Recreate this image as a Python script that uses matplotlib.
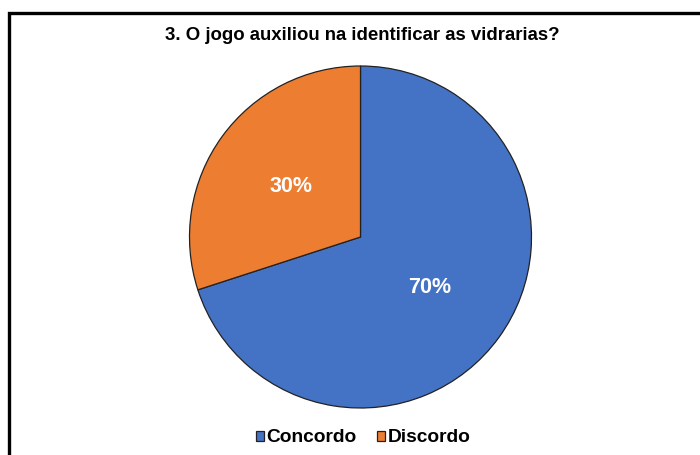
import matplotlib.pyplot as plt
from matplotlib.patches import Rectangle

# Data
labels = ["Concordo", "Discordo"]
values = [70, 30]
colors = ["#4472C4", "#ED7D31"]
title = "3. O jogo auxiliou na identificar as vidrarias?"

plt.rcParams['font.family'] = ['Liberation Sans', 'DejaVu Sans']

fig = plt.figure(figsize=(7, 4.55), dpi=100)

# frame of the chart box (runs off the right and bottom edge)
fig.patches.append(Rectangle((8.5 / 700, -0.05), 1.2, (455 - 13) / 455 + 0.05,
                             transform=fig.transFigure, fill=False,
                             edgecolor="black", linewidth=2.4, zorder=5))

ax = fig.add_axes([189.5 / 700, 47 / 455, 342 / 700, 342 / 455])
wedges, texts, autotexts = ax.pie(
    values, colors=colors, startangle=90, counterclock=False,
    autopct="%d%%", pctdistance=0.5,
    wedgeprops=dict(edgecolor="#222222", linewidth=0.9),
    textprops=dict(color="white", fontsize=15.5, fontweight="bold"))
ax.set_xlim(-1, 1)
ax.set_ylim(-1, 1)

fig.text(362 / 700, 1 - 36 / 455, title, ha="center", va="center",
         fontsize=13.4, fontweight="bold")

fig.legend(wedges, labels, loc="center", bbox_to_anchor=(363 / 700, 1 - 438 / 455),
           ncol=2, frameon=False, handlelength=0.45, handleheight=0.45,
           handletextpad=0.1, columnspacing=1.05,
           prop=dict(size=13.8, weight="bold"))

fig.savefig("out.png", dpi=100)
